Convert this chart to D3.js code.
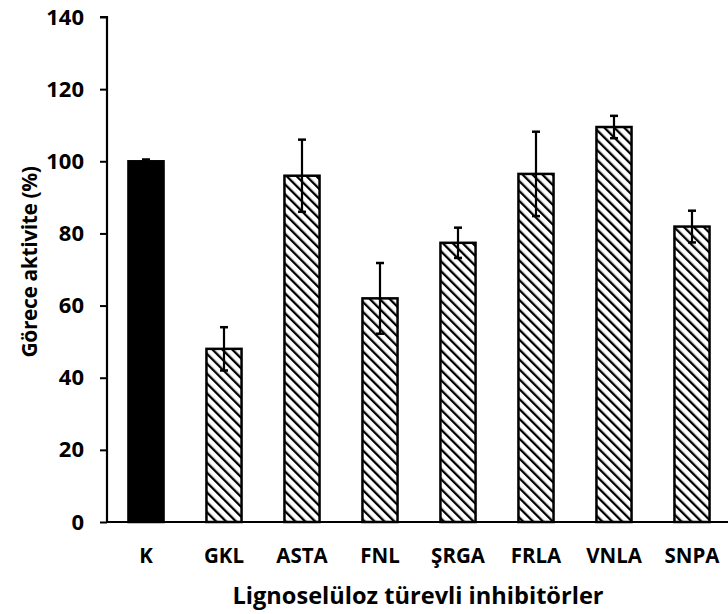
<!DOCTYPE html>
<html>
<head>
<meta charset="utf-8">
<script src="https://cdn.jsdelivr.net/npm/d3@7"></script>
<style>
  body { margin: 0; background: white; }
  text { font-family: "Open Sans", sans-serif; font-weight: bold; fill: black; }
</style>
</head>
<body>
<script>
var categories = ["K", "GKL", "ASTA", "FNL", "ŞRGA", "FRLA", "VNLA", "SNPA"]
var values = [100, 48, 96, 62, 77.4, 96.5, 109.5, 81.9]
var errors = [0.5, 6, 10, 9.8, 4.2, 11.7, 3.1, 4.4]
var yTicks = [0, 20, 40, 60, 80, 100, 120, 140]

var width = 728
var height = 614
var margin = { top: 17, left: 107, bottom: 92 }

var svg = d3.select("body")
    .append("svg")
    .attr("width", width)
    .attr("height", height)

var defs = svg.append("defs")
var pat = defs.append("pattern")
    .attr("id", "hatch")
    .attr("patternUnits", "userSpaceOnUse")
    .attr("width", 7)
    .attr("height", 7)
    .attr("patternTransform", "rotate(-45)")
pat.append("rect").attr("width", 7).attr("height", 7).attr("fill", "white")
pat.append("line")
    .attr("x1", 0).attr("y1", 0).attr("x2", 0).attr("y2", 7)
    .attr("stroke", "black")
    .attr("stroke-width", 4.6)

var x = d3.scaleBand()
    .domain(categories)
    .range([margin.left, margin.left + 78 * categories.length])
    .paddingInner(0.55)
    .paddingOuter(0.275)

var y = d3.scaleLinear()
    .domain([0, 140])
    .range([height - margin.bottom, margin.top])

// y axis
var yAxis = svg.append("g")
    .attr("transform", "translate(" + margin.left + ",0)")
    .call(d3.axisLeft(y).tickValues(yTicks).tickSize(7).tickPadding(16))
yAxis.attr("font-size", 22).attr("font-family", null)
yAxis.select(".domain").attr("stroke-width", 2.2).attr("d", "M-7," + y(140) + "H0V" + y(0))
yAxis.selectAll(".tick line").attr("stroke-width", 2)
yAxis.selectAll(".tick text").style("font-size", "22px")

// bars
var data = categories.map(function (c, i) { return { c: c, v: values[i], e: errors[i] } })

svg.selectAll(".bar")
    .data(data)
    .enter()
    .append("rect")
    .attr("class", "bar")
    .attr("x", function (d) { return x(d.c) })
    .attr("y", function (d) { return y(d.v) })
    .attr("width", x.bandwidth())
    .attr("height", function (d) { return y(0) - y(d.v) })
    .attr("fill", function (d, i) { return i === 0 ? "black" : "url(#hatch)" })
    .attr("stroke", "black")
    .attr("stroke-width", 2.5)

// error bars
var err = svg.selectAll(".err")
    .data(data)
    .enter()
    .append("g")
    .attr("class", "err")
    .attr("stroke", "black")
    .attr("stroke-width", 2.2)
err.append("line")
    .attr("x1", function (d) { return x(d.c) + x.bandwidth() / 2 })
    .attr("x2", function (d) { return x(d.c) + x.bandwidth() / 2 })
    .attr("y1", function (d) { return y(d.v - d.e) })
    .attr("y2", function (d) { return y(d.v + d.e) })
err.append("line")
    .attr("x1", function (d) { return x(d.c) + x.bandwidth() / 2 - 4 })
    .attr("x2", function (d) { return x(d.c) + x.bandwidth() / 2 + 4 })
    .attr("y1", function (d) { return y(d.v + d.e) })
    .attr("y2", function (d) { return y(d.v + d.e) })
    .attr("stroke-width", 2.5)
err.append("line")
    .attr("x1", function (d) { return x(d.c) + x.bandwidth() / 2 - 4 })
    .attr("x2", function (d) { return x(d.c) + x.bandwidth() / 2 + 4 })
    .attr("y1", function (d) { return y(d.v - d.e) })
    .attr("y2", function (d) { return y(d.v - d.e) })
    .attr("stroke-width", 2.5)

// x axis
svg.append("line")
    .attr("x1", margin.left)
    .attr("x2", width)
    .attr("y1", y(0))
    .attr("y2", y(0))
    .attr("stroke", "black")
    .attr("stroke-width", 2.2)

svg.selectAll(".xlabel")
    .data(categories)
    .enter()
    .append("text")
    .attr("class", "xlabel")
    .attr("x", function (d) { return x(d) + x.bandwidth() / 2 })
    .attr("y", 563)
    .attr("text-anchor", "middle")
    .style("font-size", "20.5px")
    .text(function (d) { return d })

// axis titles
svg.append("text")
    .attr("transform", "translate(37,262) rotate(-90)")
    .attr("text-anchor", "middle")
    .style("font-size", "21px")
    .style("letter-spacing", "-0.4px")
    .text("Görece aktivite (%)")

svg.append("text")
    .attr("x", 418)
    .attr("y", 604)
    .attr("text-anchor", "middle")
    .style("font-size", "23.6px")
    .text("Lignoselüloz türevli inhibitörler")
</script>
</body>
</html>
